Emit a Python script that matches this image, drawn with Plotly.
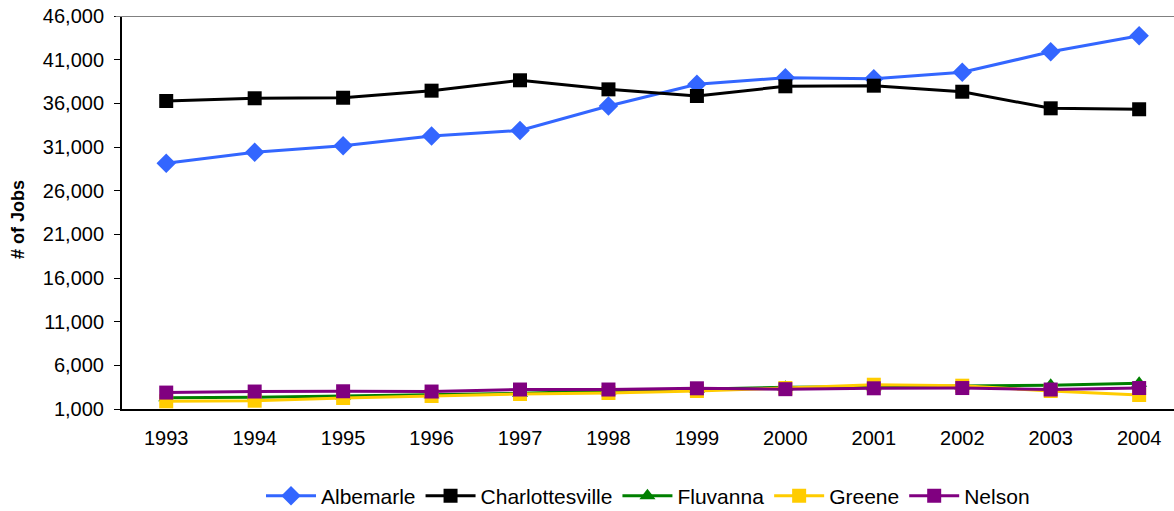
import plotly.graph_objects as go

years = ["1993", "1994", "1995", "1996", "1997", "1998", "1999", "2000", "2001", "2002", "2003", "2004"]
albemarle = [29130, 30400, 31150, 32260, 32900, 35700, 38180, 38930, 38820, 39550, 41900, 43740]
charlottesville = [36270, 36580, 36640, 37450, 38640, 37600, 36840, 37950, 38020, 37330, 35430, 35320]
fluvanna = [2300, 2340, 2490, 2640, 2800, 3060, 3250, 3500, 3550, 3630, 3710, 3940]
greene = [1880, 1950, 2260, 2490, 2720, 2830, 3060, 3400, 3780, 3670, 3060, 2600]
nelson = [2880, 3000, 3030, 3000, 3230, 3230, 3370, 3270, 3370, 3400, 3230, 3400]

series = [
    ("Albemarle", albemarle, "#3366FF", "diamond", 15),
    ("Charlottesville", charlottesville, "#000000", "square", 14),
    ("Fluvanna", fluvanna, "#008000", "triangle-up", 14),
    ("Greene", greene, "#FFCC00", "square", 14),
    ("Nelson", nelson, "#800080", "square", 14),
]

fig = go.Figure()
for name, vals, color, sym, size in series:
    fig.add_trace(go.Scatter(
        x=years, y=vals, name=name, mode="lines+markers",
        line=dict(color=color, width=3),
        marker=dict(color=color, symbol=sym, size=size, line=dict(width=0)),
    ))

fig.update_layout(
    width=1174, height=511,
    margin=dict(l=122, r=0, t=16, b=102, autoexpand=False),
    paper_bgcolor="white", plot_bgcolor="white",
    font=dict(family="Liberation Sans, Arial, sans-serif", color="black", size=20),
    showlegend=True,
    legend=dict(orientation="h", x=0.5, xanchor="center",
                yref="container", y=0.029, yanchor="middle",
                font=dict(size=21), itemwidth=50, tracegroupgap=0),
    xaxis=dict(
        type="category", range=[-0.5, 11.394], automargin=False,
        showgrid=False, zeroline=False,
        showline=True, linecolor="black", linewidth=2,
        ticks="", ticklabelstandoff=10,
        tickfont=dict(size=20),
    ),
    yaxis=dict(
        range=[1000, 46000], tick0=1000, dtick=5000, tickformat=",", automargin=False,
        showgrid=False, zeroline=False,
        showline=True, linecolor="black", linewidth=2,
        ticks="outside", ticklen=6, tickcolor="black", tickwidth=1,
        ticklabelstandoff=6, ticklabeloverflow="allow",
        tickfont=dict(size=20),
    ),
    annotations=[dict(text="<b># of Jobs</b>", xref="paper", yref="paper",
                      x=-0.0989, y=0.4835, xanchor="center", yanchor="middle",
                      textangle=-90, showarrow=False, font=dict(size=18))],
    shapes=[dict(type="line", xref="paper", yref="y", x0=-0.006, x1=1, y0=46000, y1=46000,
                 line=dict(color="#808080", width=2))],
)

fig.write_html("out.html", config={"displayModeBar": False},
               post_script="document.body.style.margin='0';document.body.style.overflow='hidden';")
